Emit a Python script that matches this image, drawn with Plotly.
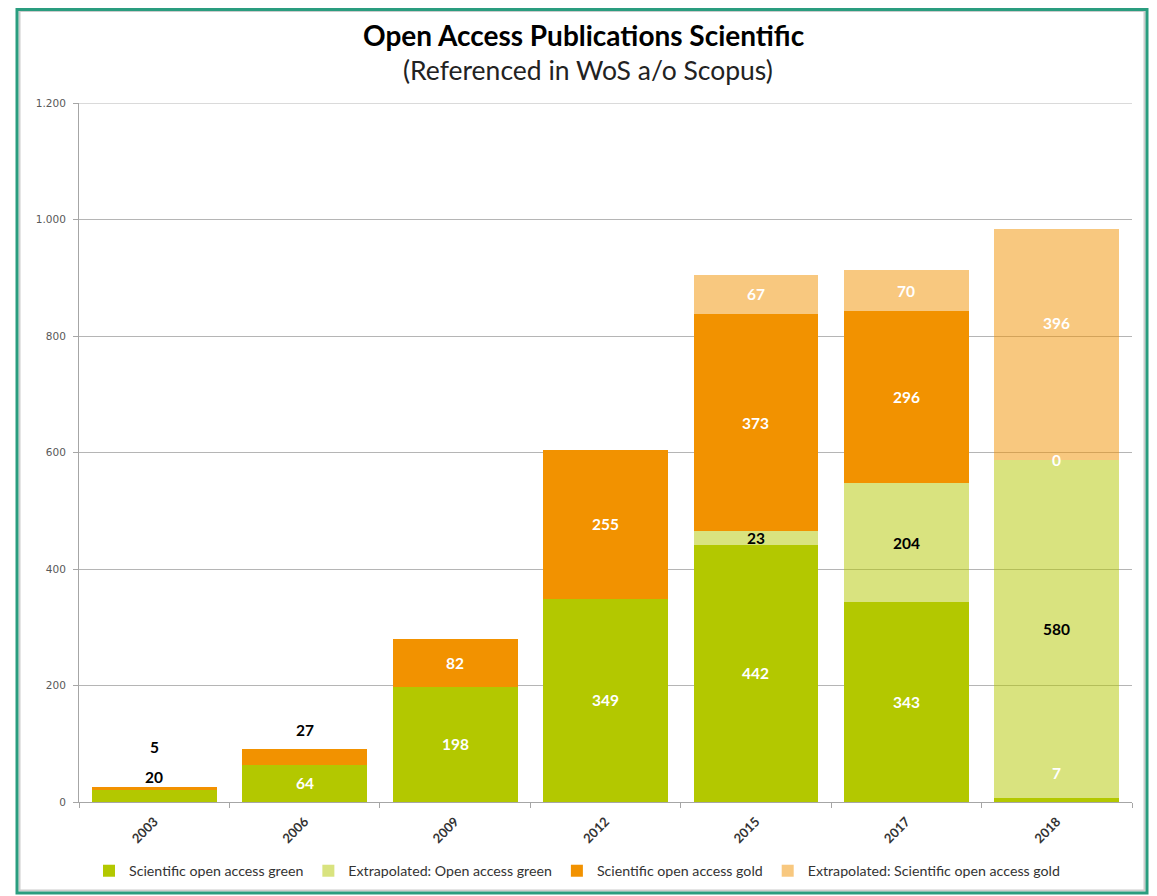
import plotly.graph_objects as go

years = ["2003", "2006", "2009", "2012", "2015", "2017", "2018"]
oa_green = [20, 64, 198, 349, 442, 343, 7]
extrap_green = [None, None, None, None, 23, 204, 580]
oa_gold = [5, 27, 82, 255, 373, 296, 0]
extrap_gold = [None, None, None, None, 67, 70, 396]
y_ticks = [0, 200, 400, 600, 800, 1000, 1200]

series_names = [
    "Scientific open access green",
    "Extrapolated: Open access green",
    "Scientific open access gold",
    "Extrapolated: Scientific open access gold",
]
series_values = [oa_green, extrap_green, oa_gold, extrap_gold]
series_colors = [
    "rgb(179,200,0)",
    "rgba(179,200,0,0.5)",
    "rgb(242,146,0)",
    "rgba(242,146,0,0.5)",
]
label_colors = ["white", "black", "white", "white"]

# label placement tweaks (pixel shift upward) and colour overrides
label_shift = {(0, 0): 19, (2, 0): 42, (2, 1): 27, (0, 6): 27, (3, 6): 22}
label_color_override = {(0, 0): "black", (2, 0): "black", (2, 1): "black"}

fig = go.Figure()
for name, vals, col in zip(series_names, series_values, series_colors):
    fig.add_trace(go.Bar(
        x=years, y=[v if v is not None else 0 for v in vals], name=name,
        marker=dict(color=col, line=dict(width=0)),
    ))

annotations = []
cum = [0] * len(years)
for si, vals in enumerate(series_values):
    for ci, v in enumerate(vals):
        if v is None:
            continue
        center = cum[ci] + v / 2
        annotations.append(dict(
            x=ci, y=center, xref="x", yref="y", text=str(v),
            showarrow=False, yshift=label_shift.get((si, ci), 0),
            xanchor="center", yanchor="middle",
            font=dict(family="Lato", size=15.5, weight="bold",
                      color=label_color_override.get((si, ci), label_colors[si])),
        ))
        cum[ci] += v

OFF = 8  # page body margin
W, H = 1157 - OFF, 896 - OFF
L = 79 - OFF
T = 103 - OFF
R = W - (1132 - OFF)
B = H - (802 - OFF)
pw, ph = W - L - R, H - T - B


def px_x(p):
    return (p - OFF - L) / pw


def px_y(p):
    return (H - B - (p - OFF)) / ph


annotations.append(dict(
    x=px_x(584), y=px_y(35), xref="paper", yref="paper",
    xanchor="center", yanchor="middle",
    text="<b>Open Access Publications Scientific</b>", showarrow=False,
    font=dict(family="Lato", size=28, color="black"),
))
annotations.append(dict(
    x=px_x(588), y=px_y(70), xref="paper", yref="paper",
    xanchor="center", yanchor="middle",
    text="(Referenced in WoS a/o Scopus)", showarrow=False,
    font=dict(family="Lato", size=26.5, color="#222222"),
))

shapes = [
    dict(type="rect", xref="paper", yref="paper",
         x0=px_x(19.5), x1=px_x(1144.5), y0=px_y(890.5), y1=px_y(11),
         line=dict(color="#cccccc", width=2), layer="below"),
    dict(type="rect", xref="paper", yref="paper",
         x0=px_x(17), x1=px_x(1147), y0=px_y(893), y1=px_y(9.5),
         line=dict(color="#2a9d7f", width=3), layer="above"),
    dict(type="line", xref="paper", yref="y", x0=0, x1=1,
         y0=y_ticks[-1], y1=y_ticks[-1],
         line=dict(color="#b5b5b5", width=1), layer="below"),
]

fig.update_layout(
    width=W, height=H,
    margin=dict(l=L, r=R, t=T, b=B, autoexpand=False),
    barmode="stack", bargap=0.17,
    plot_bgcolor="white", paper_bgcolor="white",
    separators=",.",
    annotations=annotations, shapes=shapes,
    showlegend=True,
    legend=dict(orientation="h", x=px_x(89), xanchor="left",
                y=px_y(871), yanchor="middle",
                font=dict(family="Lato", size=14.2, color="#333333"),
                itemwidth=30, tracegroupgap=0, traceorder="normal"),
    xaxis=dict(
        type="category", range=[-0.5, 6.5], tickangle=-45, tickson="boundaries",
        ticks="outside", ticklen=5, tickcolor="#a6a6a6",
        showline=True, linecolor="#a6a6a6", linewidth=1,
        tickfont=dict(family="Lato", size=13, weight="bold", color="#333333"),
        ticklabelstandoff=6,
        showgrid=False, automargin=False,
    ),
    yaxis=dict(
        range=[0, 1200], tickvals=y_ticks,
        tickformat=",", ticks="outside", ticklen=5, tickcolor="#a6a6a6",
        showline=True, linecolor="#a6a6a6", linewidth=1,
        gridcolor="#b5b5b5", gridwidth=1, zeroline=False,
        tickfont=dict(family="DejaVu Sans", size=10.5, color="#595959"),
        ticklabelstandoff=5, automargin=False,
    ),
)

fig.write_html("out.html")
